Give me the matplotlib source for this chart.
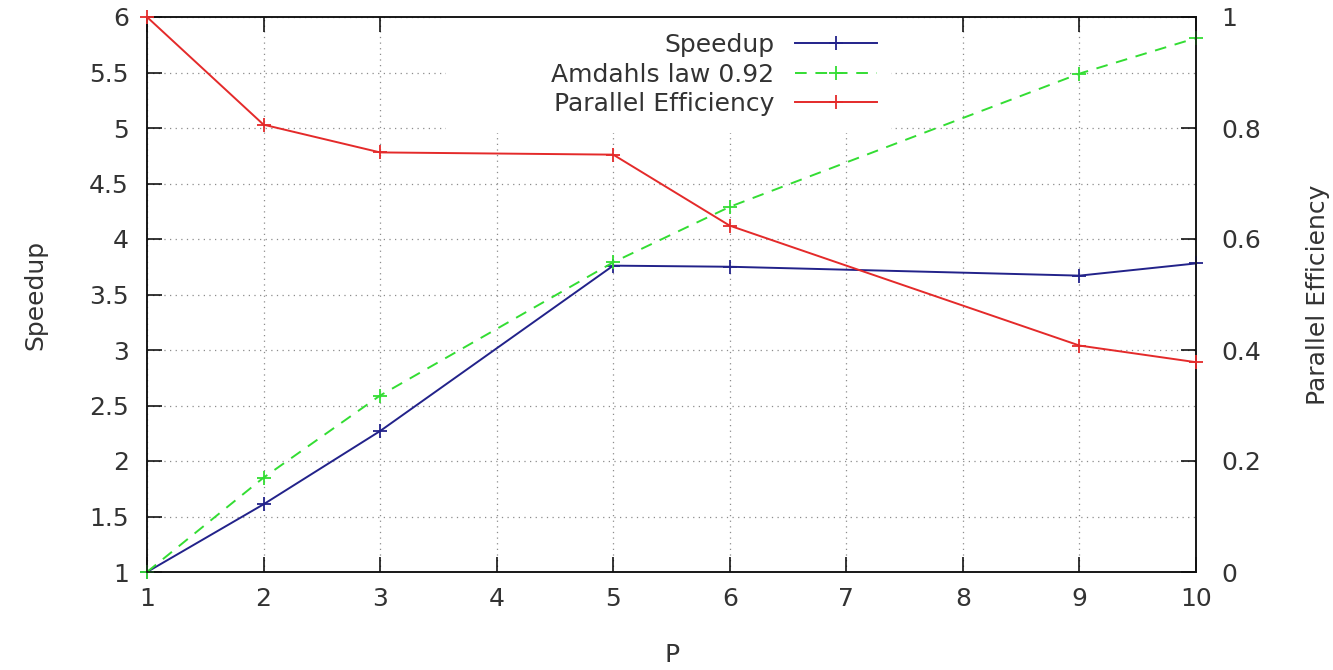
import matplotlib
matplotlib.use("Agg")
import matplotlib.pyplot as plt
from matplotlib.patches import Rectangle
from matplotlib.ticker import FuncFormatter

# ---- data ----
procs = [1, 2, 3, 5, 6, 9, 10]
speedup = [1.0, 1.61, 2.27, 3.76, 3.75, 3.67, 3.78]
amdahl = [1.0, 1.85, 2.59, 3.79, 4.29, 5.49, 5.81]
efficiency = [1.0, 0.806, 0.756, 0.752, 0.624, 0.408, 0.378]

x_ticks = list(range(1, 11))
y_ticks = [1, 1.5, 2, 2.5, 3, 3.5, 4, 4.5, 5, 5.5, 6]
y2_ticks = [0, 0.2, 0.4, 0.6, 0.8, 1]

labels = ["Speedup", "Amdahls law 0.92", "Parallel Efficiency"]

# ---- style ----
FS = 18
TXT = "#333333"
plt.rcParams["font.family"] = ["DejaVu Sans"]
plt.rcParams["font.size"] = FS

fig = plt.figure(figsize=(13.33, 6.70), dpi=100)
L, R, B, T = 147 / 1333, 1196 / 1333, 1 - 572 / 670, 1 - 17 / 670
ax = fig.add_axes([L, B, R - L, T - B])
ax2 = ax.twinx()

c_blue = "#22228a"
c_green = "#33dd33"
c_red = "#e42a2a"
lw = 1.4
ms = 9.5
mew = 1.3

l1, = ax.plot(procs, speedup, color=c_blue, lw=lw, marker="+", ms=ms, mew=mew, zorder=3)
l2, = ax.plot(procs, amdahl, color=c_green, lw=lw, marker="+", ms=ms, mew=mew,
              dashes=(6, 4.5), zorder=3)
l3, = ax2.plot(procs, efficiency, color=c_red, lw=lw, marker="+", ms=ms, mew=mew, zorder=3)
for l in (l1, l2, l3):
    l.set_clip_on(False)

ax.set_xlim(1, 10)
ax.set_ylim(1, 6)
ax2.set_ylim(0, 1)
ax.set_xticks(x_ticks)
ax.set_yticks(y_ticks)
ax2.set_yticks(y2_ticks)
ax.yaxis.set_major_formatter(FuncFormatter(lambda v, p: f"{v:g}"))
ax2.yaxis.set_major_formatter(FuncFormatter(lambda v, p: f"{v:g}"))

ax.grid(True, color="#8c8c8c", lw=0.9, linestyle=(0, (1, 3.5)))
ax.set_axisbelow(True)

ax.tick_params(axis="x", which="both", direction="in", length=11, width=1.1,
               top=True, bottom=True, labelsize=FS, labelcolor=TXT, pad=11)
ax.tick_params(axis="y", direction="in", length=11, width=1.1, left=True, right=False,
               labelsize=FS, labelcolor=TXT, pad=13)
ax2.tick_params(axis="y", direction="in", length=11, width=1.1, left=False, right=True,
                labelsize=FS, labelcolor=TXT, pad=18)
for a in (ax, ax2):
    for s in a.spines.values():
        s.set_linewidth(1.1)
        s.set_color("#111111")

ax.set_xlabel("P", color=TXT, fontsize=FS)
ax.xaxis.set_label_coords((672 - 147) / 1049, (572 - 643) / 555)
ax.set_ylabel("Speedup", color=TXT, fontsize=FS)
ax.yaxis.label.set_va("center")
ax.yaxis.set_label_coords((35 - 147) / 1049, 0.5)
ax2.set_ylabel("Parallel Efficiency", color=TXT, fontsize=FS)
ax2.yaxis.label.set_va("center")
ax2.yaxis.set_label_coords((1318 - 147) / 1049, 0.5)

# key background (covers grid, below the lines)
ax.add_patch(Rectangle(((446 - 147) / 1049, (572 - 133) / 555),
                       (891 - 446) / 1049, (133 - 17) / 555,
                       transform=ax.transAxes, facecolor="white", edgecolor="none",
                       zorder=1.8, clip_on=False))

leg = ax.legend([l1, l2, l3], labels, loc="upper right",
                bbox_to_anchor=((877 - 147) / 1049, (572 - 33) / 555),
                frameon=False, markerfirst=False, numpoints=1,
                handlelength=3.3, handletextpad=0.8, borderpad=0, borderaxespad=0,
                labelspacing=0.22, fontsize=FS)
for t in leg.get_texts():
    t.set_color(TXT)
leg.set_zorder(2.5)

fig.savefig("out.png", dpi=100)
